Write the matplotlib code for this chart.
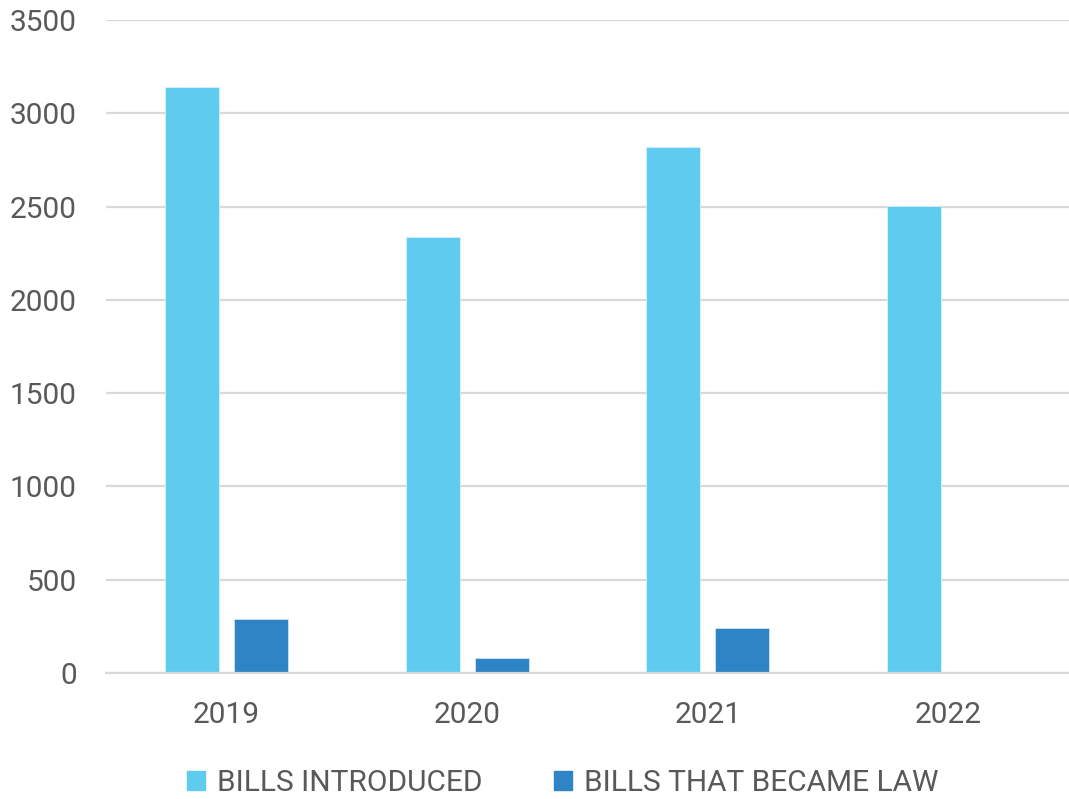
import matplotlib
matplotlib.use("Agg")
import matplotlib.pyplot as plt
from matplotlib.patches import Patch
import numpy as np

years = ["2019", "2020", "2021", "2022"]
bills_introduced = [3139, 2336, 2818, 2504]
bills_law = [289, 80, 243, 0]
series_names = ["BILLS INTRODUCED", "BILLS THAT BECAME LAW"]
yticks = [0, 500, 1000, 1500, 2000, 2500, 3000, 3500]

c_intro = "#5FCBEF"
c_law = "#2E84C4"
txt = "#595959"
grid = "#D9D9D9"

plt.rcParams['font.family'] = ['Roboto', 'DejaVu Sans']

fig = plt.figure(figsize=(10.69, 7.99), dpi=100)
ax = fig.add_axes([106/1069, 126/799, 963/1069, 653/799])

x = np.arange(len(years))
w = 0.224
gap = 0.062
off = (w + gap) / 2
ax.bar(x - off, bills_introduced, w, color=c_intro, edgecolor="#d8f2fb", linewidth=0.6, zorder=3)
ax.bar(x + off, bills_law, w, color=c_law, edgecolor="#d0e4f3", linewidth=0.6, zorder=3)

ax.set_xlim(-0.5, len(years) - 0.5)
ax.set_ylim(0, 3500)
ax.set_yticks(yticks)
ax.set_yticklabels([str(v) for v in yticks])
ax.set_xticks(x)
ax.set_xticklabels(years)
ax.yaxis.grid(True, color=grid, linewidth=1.6, zorder=0)
ax.set_axisbelow(True)
for s in ["top", "right", "left"]:
    ax.spines[s].set_visible(False)
ax.spines["bottom"].set_color(grid)
ax.spines["bottom"].set_linewidth(1.6)
ax.spines["bottom"].set_zorder(4)
ax.tick_params(axis="both", length=0, labelsize=21.5, colors=txt)
ax.tick_params(axis="y", pad=21)
ax.tick_params(axis="x", pad=20)

handles = [Patch(color=c_intro), Patch(color=c_law)]
fig.legend(handles, series_names, loc="center", bbox_to_anchor=(563/1069, 16/799),
           ncol=2, frameon=False, fontsize=21.5, labelcolor=txt,
           handlelength=0.6, handleheight=0.6, handletextpad=0.4, columnspacing=2.4)

fig.savefig("out.png", dpi=100)
